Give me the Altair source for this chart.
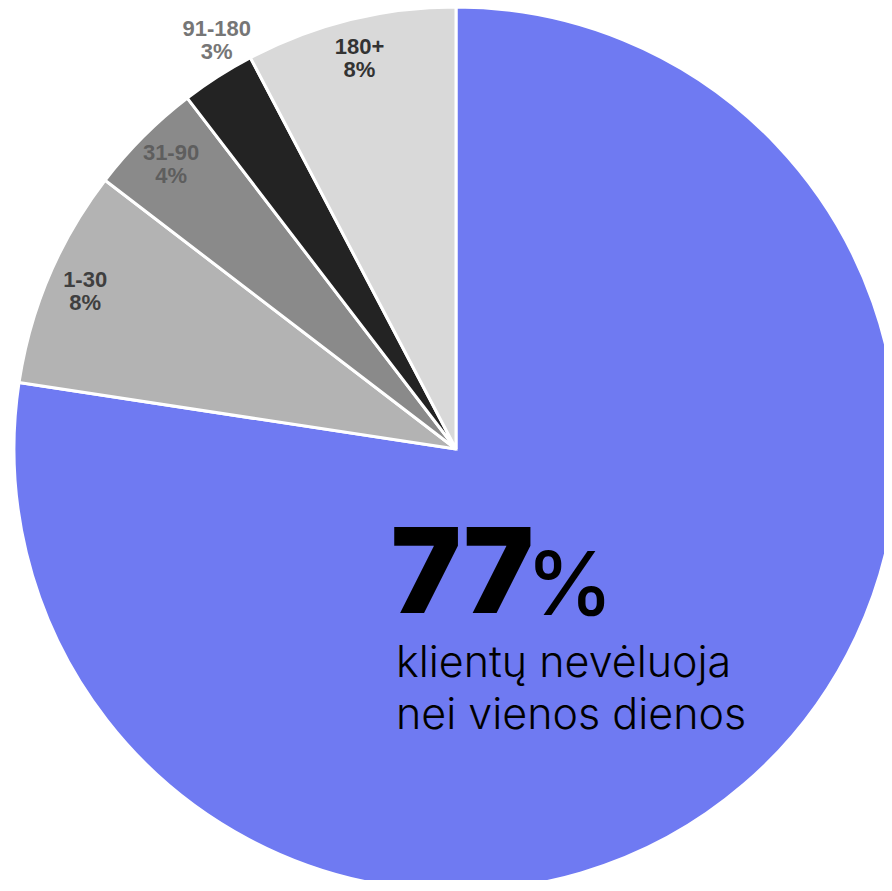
import altair as alt
import pandas as pd

# Data
categories = ["0", "1-30", "31-90", "91-180", "180+"]
values = [77.4, 8.0, 4.2, 2.7, 7.7]
pct_labels = ["77%", "8%", "4%", "3%", "8%"]
slice_colors = ["#6F7AF2", "#B3B3B3", "#8A8A8A", "#232323", "#D9D9D9"]
label_colors = ["#000000", "#3F3F3F", "#5E5E5E", "#767676", "#333333"]

inner = []
outer = []
for c, p in zip(categories, pct_labels):
    if c == "0":
        inner.append("")
        outer.append("")
    elif c == "91-180":
        inner.append("")
        outer.append(c + "\n" + p)
    else:
        inner.append(c + "\n" + p)
        outer.append("")

df = pd.DataFrame({
    "cat": categories,
    "value": values,
    "order": list(range(len(categories))),
    "inner": inner,
    "outer": outer,
})

CX, CY, R = 448, 441, 442

base = alt.Chart(df).encode(
    theta=alt.Theta("value:Q", stack=True),
    order=alt.Order("order:Q"),
    x=alt.value(CX),
    y=alt.value(CY),
)

arcs = base.mark_arc(outerRadius=R, stroke="white", strokeWidth=3).encode(
    color=alt.Color("cat:N", scale=alt.Scale(domain=categories, range=slice_colors), legend=None)
)

txt_color = alt.Color("cat:N", scale=alt.Scale(domain=categories, range=label_colors), legend=None)

inner_text = base.mark_text(
    radius=403, font="Liberation Sans", fontWeight="bold", fontSize=22,
    lineBreak="\n", lineHeight=23, align="center", baseline="middle", dy=-11
).encode(text="inner:N", color=txt_color)

outer_text = base.mark_text(
    radius=474, font="Liberation Sans", fontWeight="bold", fontSize=22,
    lineBreak="\n", lineHeight=23, align="center", baseline="middle", dx=16, dy=-21
).encode(text="outer:N", color=txt_color)

big = alt.Chart(pd.DataFrame({"t": ["77"]})).mark_text(
    font="Inter", fontWeight=900, fontSize=118, align="left", baseline="alphabetic",
    color="#000000"
).encode(text="t:N", x=alt.value(383), y=alt.value(605))

pct = alt.Chart(pd.DataFrame({"t": ["%"]})).mark_text(
    font="Inter", fontWeight=500, fontSize=88, align="left", baseline="alphabetic",
    color="#000000"
).encode(text="t:N", x=alt.value(518), y=alt.value(607))

sub = alt.Chart(pd.DataFrame({"t": ["klientų nevėluoja\nnei vienos dienos"]})).mark_text(
    font="Inter", fontWeight=300, fontSize=43, align="left", baseline="alphabetic",
    color="#000000", lineBreak="\n", lineHeight=52
).encode(text="t:N", x=alt.value(388), y=alt.value(669))

chart = alt.layer(arcs, inner_text, outer_text, big, pct, sub).resolve_scale(
    color="independent"
).properties(
    width=876, height=872, padding=0,
    autosize=alt.AutoSizeParams(type="none")
).configure_view(stroke=None)

chart.save("out.html", embed_options={"renderer": "svg", "actions": False})
